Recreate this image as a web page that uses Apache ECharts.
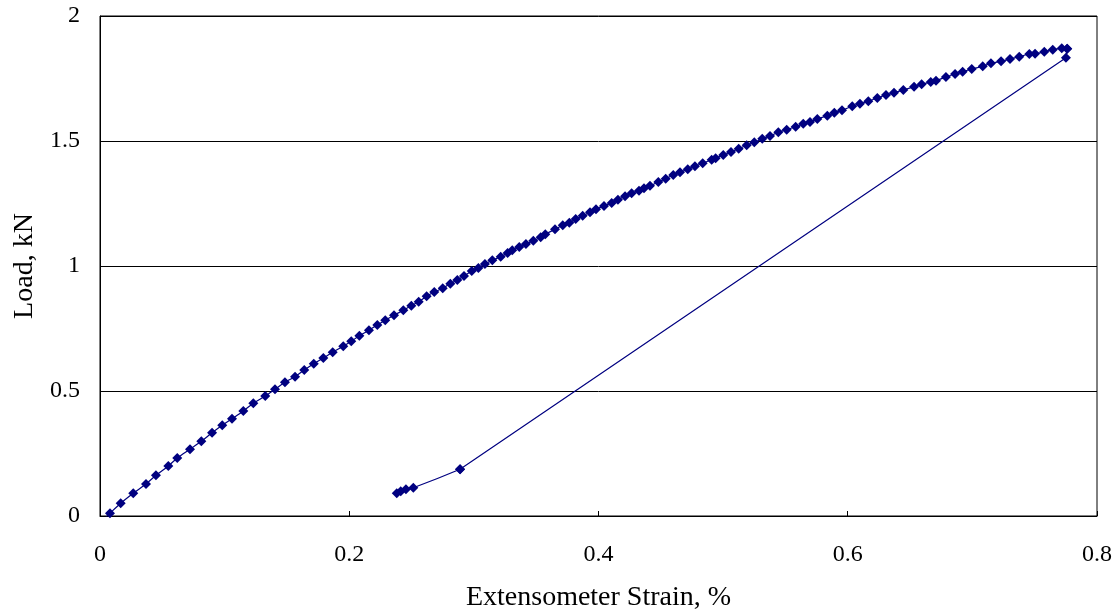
<!DOCTYPE html>
<html>
<head>
<meta charset="utf-8">
<script src="https://cdn.jsdelivr.net/npm/echarts@6/dist/echarts.min.js"></script>
<style>
html,body{margin:0;padding:0;background:#fff;}
#chart{width:1120px;height:614px;}
</style>
</head>
<body>
<div id="chart"></div>
<script>
// Loading branch: extensometer strain (%) and load (kN)
const loadStrain = [
  0.0015, 0.0080, 0.0166, 0.0267, 0.0369, 0.0449, 0.0548, 0.0620, 0.0722, 0.0813,
  0.0899, 0.0981, 0.1059, 0.1150, 0.1230, 0.1326, 0.1404, 0.1484, 0.1565, 0.1639,
  0.1715, 0.1792, 0.1867, 0.1952, 0.2016, 0.2081, 0.2158, 0.2225, 0.2289, 0.2359,
  0.2434, 0.2498, 0.2557, 0.2621, 0.2682, 0.2750, 0.2811, 0.2867, 0.2921, 0.2983,
  0.3036, 0.3089, 0.3148, 0.3215, 0.3271, 0.3308, 0.3364, 0.3418, 0.3477, 0.3536,
  0.3573, 0.3651, 0.3713, 0.3766, 0.3817, 0.3873, 0.3932, 0.3980, 0.4044, 0.4106,
  0.4156, 0.4213, 0.4266, 0.4325, 0.4365, 0.4413, 0.4480, 0.4539, 0.4600, 0.4654,
  0.4716, 0.4774, 0.4836, 0.4908, 0.4940, 0.5001, 0.5063, 0.5125, 0.5189, 0.5250,
  0.5314, 0.5376, 0.5443, 0.5510, 0.5582, 0.5643, 0.5697, 0.5756, 0.5836, 0.5892,
  0.5954, 0.6036, 0.6098, 0.6165, 0.6237, 0.6307, 0.6371, 0.6446, 0.6532, 0.6593,
  0.6666, 0.6708, 0.6788, 0.6861, 0.6922, 0.6995, 0.7083, 0.7149, 0.7230, 0.7302,
  0.7376, 0.7457, 0.7503, 0.7577, 0.7645, 0.7717, 0.7761
];
const loadKN = [
  -0.020, 0.011, 0.051, 0.091, 0.128, 0.163, 0.200, 0.232, 0.267, 0.299,
  0.333, 0.363, 0.389, 0.420, 0.451, 0.480, 0.507, 0.535, 0.557, 0.584,
  0.609, 0.632, 0.655, 0.679, 0.699, 0.721, 0.743, 0.764, 0.783, 0.803,
  0.823, 0.841, 0.857, 0.879, 0.896, 0.911, 0.929, 0.944, 0.960, 0.980,
  0.992, 1.008, 1.023, 1.037, 1.052, 1.063, 1.076, 1.088, 1.101, 1.115,
  1.127, 1.147, 1.163, 1.173, 1.188, 1.201, 1.215, 1.227, 1.240, 1.252,
  1.265, 1.279, 1.291, 1.301, 1.311, 1.321, 1.336, 1.349, 1.364, 1.375,
  1.387, 1.399, 1.411, 1.425, 1.431, 1.444, 1.456, 1.469, 1.483, 1.495,
  1.509, 1.520, 1.535, 1.545, 1.557, 1.569, 1.576, 1.588, 1.601, 1.613,
  1.623, 1.639, 1.649, 1.659, 1.672, 1.684, 1.693, 1.704, 1.717, 1.727,
  1.736, 1.741, 1.756, 1.768, 1.777, 1.788, 1.799, 1.811, 1.819, 1.828,
  1.837, 1.848, 1.849, 1.857, 1.865, 1.871, 1.869
];
// Unloading branch: straight drop from the peak, then the curved tail
const dropStrain = [0.7761, 0.7751, 0.2889];
const dropKN     = [1.869, 1.833, 0.187];
const tailStrain = [0.2889, 0.2514, 0.2455, 0.2413, 0.2381];
const tailKN     = [0.187, 0.113, 0.107, 0.099, 0.091];

const xTicks = [0, 0.2, 0.4, 0.6, 0.8];
const yTicks = [0, 0.5, 1, 1.5, 2];
const xTitle = 'Extensometer Strain, %';
const yTitle = 'Load, kN';

const pair = (xs, ys) => xs.map((s, i) => [s, ys[i]]);
const FONT = '"Liberation Serif", "Times New Roman", serif';
const NAVY = '#000080';

function lineSeries(data, smooth) {
  return {
    type: 'line',
    data: data,
    smooth: smooth,
    clip: true,
    symbol: 'diamond',
    symbolSize: 10,
    showAllSymbol: true,
    lineStyle: {color: NAVY, width: 1.2},
    itemStyle: {color: NAVY}
  };
}

const chart = echarts.init(document.getElementById('chart'), null, {renderer: 'canvas'});
chart.setOption({
  animation: false,
  backgroundColor: '#ffffff',
  grid: {
    left: 100, top: 16, right: 23, bottom: 98,
    outerBoundsMode: 'none', containLabel: false,
    show: true, borderColor: '#000', borderWidth: 1, backgroundColor: 'transparent'
  },
  xAxis: {
    type: 'value',
    min: xTicks[0], max: xTicks[xTicks.length - 1], interval: 0.2,
    name: xTitle, nameLocation: 'middle', nameGap: 68,
    nameTextStyle: {fontFamily: FONT, fontSize: 28, color: '#000'},
    axisLine: {show: true, onZero: false, lineStyle: {color: '#000', width: 1}},
    axisTick: {show: true, inside: true, length: 5, lineStyle: {color: '#000'}},
    axisLabel: {fontFamily: FONT, fontSize: 24, color: '#000', margin: 27,
      formatter: v => String(v)},
    splitLine: {show: false}
  },
  yAxis: {
    type: 'value',
    min: yTicks[0], max: yTicks[yTicks.length - 1], interval: 0.5,
    name: yTitle, nameLocation: 'middle', nameGap: 61, nameRotate: 90,
    nameTextStyle: {fontFamily: FONT, fontSize: 28, color: '#000'},
    axisLine: {show: true, lineStyle: {color: '#000', width: 1}},
    axisTick: {show: true, inside: true, length: 5, lineStyle: {color: '#000'}},
    axisLabel: {fontFamily: FONT, fontSize: 24, color: '#000', margin: 20,
      formatter: v => String(v)},
    splitLine: {show: true, lineStyle: {color: '#000', width: 1}}
  },
  series: [
    lineSeries(pair(loadStrain, loadKN), 0.3),
    lineSeries(pair(dropStrain, dropKN), false),
    lineSeries(pair(tailStrain, tailKN), 0.5)
  ]
});
</script>
</body>
</html>
